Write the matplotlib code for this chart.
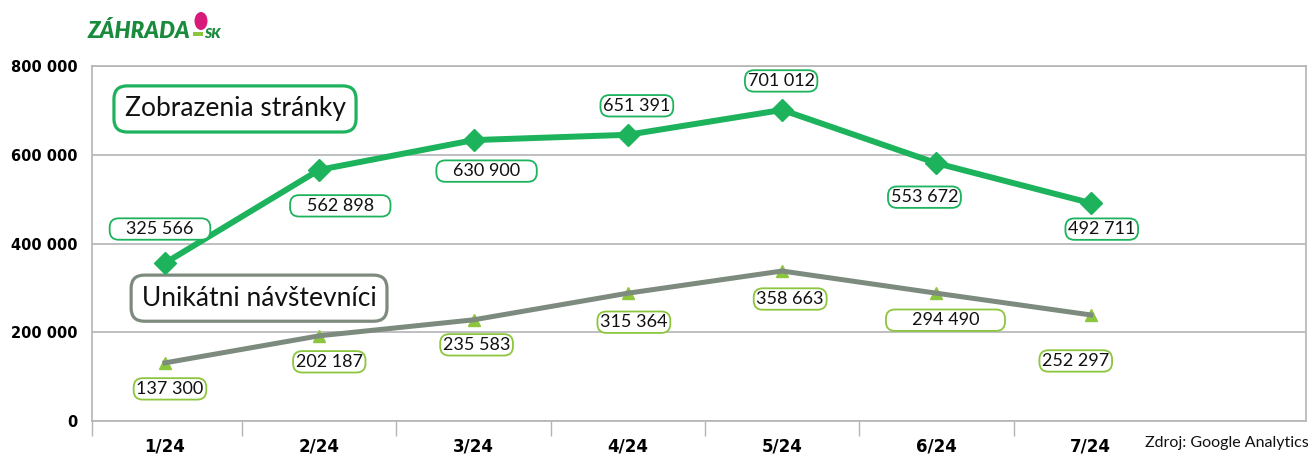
import matplotlib
matplotlib.use("Agg")
import matplotlib.pyplot as plt
from matplotlib.patches import Ellipse, Rectangle

plt.rcParams['font.family'] = ['Lato', 'DejaVu Sans']

months = ['1/24', '2/24', '3/24', '4/24', '5/24', '6/24', '7/24']
# values as drawn in the picture
views = [356000, 566000, 633000, 645000, 701000, 581000, 491000]
visitors = [131000, 192000, 228000, 288000, 338000, 288000, 239000]
# values printed in the labels
views_lbl = ['325 566', '562 898', '630 900', '651 391', '701 012', '553 672', '492 711']
visitors_lbl = ['137 300', '202 187', '235 583', '315 364', '358 663', '294 490', '252 297']
yticks = [0, 200000, 400000, 600000, 800000]
ytick_lbl = ['0', '200 000', '400 000', '600 000', '800 000']

# label offsets in pixels (dx, dy) from the point
views_off = [(-5, 34), (21, -36), (13, -31), (9, 29), (-1, 29), (-12, -34), (11, -26)]
visitors_off = [(5, -26), (10, -26), (3, -25), (6, -29), (8, -28), (9, -27), (-15, -46)]
# extra blank space inside some boxes
views_fill = [3, 3, 3, 0, 0, 0, 0]
visitors_fill = [0, 0, 0, 0, 0, 5, 0]

GREEN = '#1db35c'
LGREEN = '#8cc63f'
GRAY = '#7d8a7e'
GRID = '#b4b4b8'

W, H = 1309, 455
fig = plt.figure(figsize=(W / 100, H / 100), dpi=100)
ax = fig.add_axes([92 / W, 1 - 421 / H, 1214 / W, 355 / H])

x = list(range(len(months)))
ax.plot(x, views, color=GREEN, lw=4.3, marker='D', ms=11, zorder=4)
ax.plot(x, visitors, color=GRAY, lw=3.6, zorder=3)
ax.plot(x, visitors, ls='none', marker='^', ms=8, color=LGREEN, zorder=2)

box = 'round,pad=0.15,rounding_size=0.5'
for i in x:
    sp = ' ' * views_fill[i]
    ax.annotate(sp + views_lbl[i] + sp, (i, views[i]), xytext=views_off[i], textcoords='offset pixels',
                ha='center', va='center', fontsize=13, color='#111111', zorder=5,
                bbox=dict(boxstyle=box, fc='white', ec=GREEN, lw=1.3))
    sp = ' ' * visitors_fill[i]
    ax.annotate(sp + visitors_lbl[i] + sp, (i, visitors[i]), xytext=visitors_off[i], textcoords='offset pixels',
                ha='center', va='center', fontsize=13, color='#111111', zorder=5,
                bbox=dict(boxstyle=box, fc='white', ec=LGREEN, lw=1.3))

ax.text(0.1178, 0.879, 'Zobrazenia stránky', transform=ax.transAxes, ha='center', va='center',
        fontsize=19, color='#111111',
        bbox=dict(boxstyle='round,pad=0.4,rounding_size=0.5', fc='white', ec=GREEN, lw=2.3))
ax.text(0.1376, 0.346, 'Unikátni návštevníci', transform=ax.transAxes, ha='center', va='center',
        fontsize=19, color='#111111',
        bbox=dict(boxstyle='round,pad=0.4,rounding_size=0.5', fc='white', ec=GRAY, lw=2.3))

ax.set_xlim(-0.473, 7.395)
ax.set_ylim(0, 800000)
ax.set_yticks(yticks)
ax.set_yticklabels(ytick_lbl, fontsize=10.5, fontweight='bold', family='DejaVu Sans')
ax.tick_params(axis='y', length=0, pad=10.5)
ax.set_xticks(x)
ax.set_xticklabels(months, fontsize=12, fontweight='bold', family='DejaVu Sans')
ax.tick_params(axis='x', which='major', length=0, pad=12)
ax.set_xticks([-0.473] + [i + 0.5 for i in range(6)], minor=True)
ax.tick_params(axis='x', which='minor', length=11, width=1, color=GRID, direction='out')
ax.grid(axis='y', color=GRID, lw=1.2)
ax.set_axisbelow(True)
for s in ax.spines.values():
    s.set_color(GRID)
    s.set_linewidth(1.2)

fig.text(1.0, 1 - 443 / H, 'Zdroj: Google Analytics', ha='right', va='center', fontsize=11.5, color='#111111')

# logo
fig.text(88 / W, 1 - 38 / H, 'ZÁHRADA', fontsize=16, fontweight='heavy', style='italic',
         color='#1a8a3c', ha='left', va='baseline')
fig.patches.append(Ellipse((201 / W, 1 - 21 / H), 13 / W, 18 / H, transform=fig.transFigure,
                           fc='#d81b7a', ec='none'))
fig.patches.append(Rectangle((193 / W, 1 - 36 / H), 10 / W, 4 / H, transform=fig.transFigure,
                             fc='#8cc63f', ec='none'))
fig.text(204 / W, 1 - 38 / H, 'SK', fontsize=10, fontweight='heavy', style='italic',
         color='#1a8a3c', ha='left', va='baseline')

fig.savefig('out.png', dpi=100)
